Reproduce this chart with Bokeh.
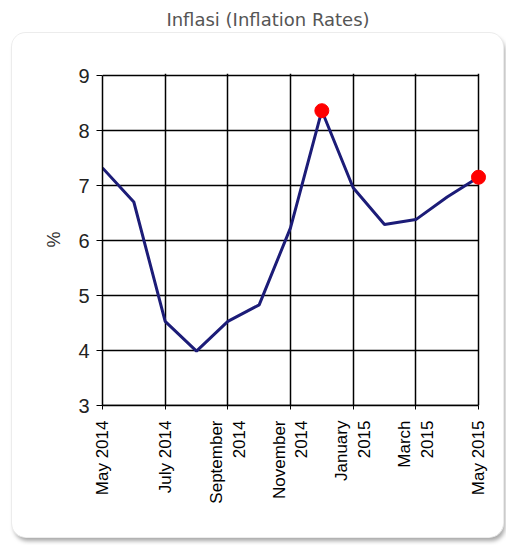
from math import pi
from bokeh.plotting import figure
from bokeh.layouts import column
from bokeh.models import FixedTicker, Div
from bokeh.embed import file_html
from bokeh.resources import INLINE

months = ["May 2014", "June 2014", "July 2014", "August 2014", "September 2014",
          "October 2014", "November 2014", "December 2014", "January 2015",
          "February 2015", "March 2015", "April 2015", "May 2015"]
inflation = [7.32, 6.70, 4.53, 3.99, 4.53, 4.83, 6.23, 8.36, 6.96, 6.29, 6.38, 6.79, 7.15]
highlight = ["December 2014", "May 2015"]
tick_months = ["May 2014", "July 2014", "September 2014", "November 2014",
               "January 2015", "March 2015", "May 2015"]
tick_labels = ["May 2014", "July 2014", "September\n2014", "November\n2014",
               "January\n2015", "March\n2015", "May 2015"]
y_ticks = [3, 4, 5, 6, 7, 8, 9]
title = "Inflasi (Inflation Rates)"

x = list(range(len(months)))
x_last = len(months) - 1
tick_pos = [months.index(m) for m in tick_months]
hx = [months.index(m) for m in highlight]
hy = [inflation[i] for i in hx]

# frame is slightly larger than the data box so the end marker is not cut off
x_end = x_last * 384 / 376
y_end = y_ticks[0] + (y_ticks[-1] - y_ticks[0]) * 332 / 330

p = figure(width=491, height=504, output_backend="svg", toolbar_location=None,
           x_range=(0, x_end), y_range=(y_ticks[0], y_end),
           min_border_left=90, min_border_right=17, min_border_top=40, min_border_bottom=132,
           background_fill_color="white", border_fill_color="white")
p.margin = (0, 0, 0, 12)
p.styles = {"border-radius": "14px", "overflow": "hidden",
            "box-shadow": "0 0 0 1px #ececec, 2px 4px 4px rgba(0,0,0,0.35)"}
p.outline_line_color = None

# horizontal rules at the y ticks, bounded to the data box
p.segment(x0=[0] * len(y_ticks), x1=[x_last] * len(y_ticks), y0=y_ticks, y1=y_ticks,
          line_color="black", line_width=1.5, level="underlay")

p.line(x, inflation, line_color="#1c1c78", line_width=3)
p.scatter(hx, hy, size=14, color="#ff0000")

p.xaxis.bounds = (0, x_last)
p.xaxis.ticker = FixedTicker(ticks=tick_pos)
p.xaxis.major_label_overrides = {tp: lab for tp, lab in zip(tick_pos, tick_labels)}
p.xaxis.major_label_orientation = pi / 2
p.xaxis.major_label_text_font = "Liberation Sans"
p.xaxis.major_label_text_font_size = "17px"
p.xaxis.major_label_text_color = "black"
p.xaxis.major_label_standoff = 11
p.xaxis.minor_tick_line_color = None
p.xaxis.major_tick_in = 0
p.xaxis.major_tick_out = 4
p.xaxis.axis_line_color = "black"
p.xaxis.axis_line_width = 1.5

p.yaxis.bounds = (y_ticks[0], y_ticks[-1])
p.yaxis.ticker = FixedTicker(ticks=y_ticks)
p.yaxis.major_label_text_font = "Liberation Sans"
p.yaxis.major_label_text_font_size = "20px"
p.yaxis.major_label_text_color = "#222222"
p.yaxis.major_label_standoff = 7
p.yaxis.minor_tick_line_color = None
p.yaxis.major_tick_in = 0
p.yaxis.major_tick_out = 6
p.yaxis.axis_line_color = "black"
p.yaxis.axis_line_width = 1.5
p.yaxis.axis_label = "%"
p.yaxis.axis_label_text_font = "Liberation Sans"
p.yaxis.axis_label_text_font_size = "18px"
p.yaxis.axis_label_text_font_style = "normal"
p.yaxis.axis_label_text_color = "#333333"
p.yaxis.axis_label_standoff = 11

p.ygrid.visible = False
p.xgrid.grid_line_color = "black"
p.xgrid.grid_line_width = 1.5
p.xgrid.grid_line_alpha = 1.0
p.xgrid.ticker = FixedTicker(ticks=tick_pos)

head = Div(text=title, width=476, height=33, margin=(0, 0, 0, 30),
           styles={"font-family": "DejaVu Sans", "font-size": "18px", "color": "#555555",
                   "text-align": "center", "line-height": "22px", "padding-top": "9px"})

layout = column(head, p, spacing=0)

open("out.html", "w").write(file_html(layout, INLINE))
